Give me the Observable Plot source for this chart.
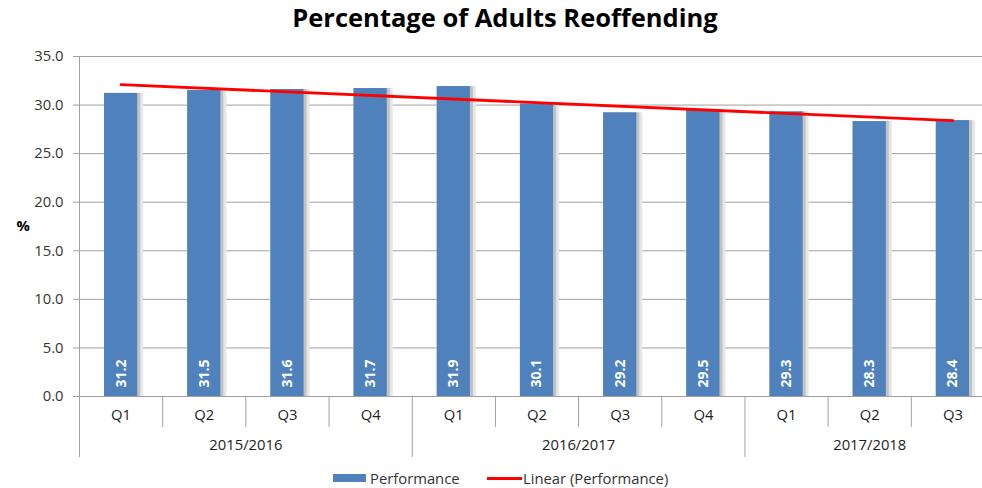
<!DOCTYPE html>
<html><head><meta charset="utf-8">
<script src="https://cdn.jsdelivr.net/npm/d3@7"></script>
<script src="https://cdn.jsdelivr.net/npm/@observablehq/plot@0.6"></script>
<style>
html,body{margin:0;padding:0;background:#fff;overflow:hidden;width:982px;height:488px;position:relative}
#title{position:absolute;top:0;left:14px;width:982px;height:42px;line-height:42px;text-align:center;font:bold 25.5px "Open Sans", sans-serif;color:#000}
#chart{position:absolute;top:40px;left:0}
.lg{position:absolute;font:14.8px "Open Sans", sans-serif;color:#333;white-space:nowrap}
</style></head><body>
<div id="title">Percentage of Adults Reoffending</div>
<div id="chart"></div>
<div class="lg" style="left:333px;top:474px;width:33px;height:8px;background:#4F81BD"></div>
<div class="lg" style="left:370px;top:468px;line-height:20px">Performance</div>
<div class="lg" style="left:487px;top:477px;width:35px;height:3px;background:#FF0000"></div>
<div class="lg" style="left:523px;top:468px;line-height:20px">Linear (Performance)</div>
<script>
const years = ["2015/2016", "2016/2017", "2017/2018"];
const quarters = ["Q1", "Q2", "Q3", "Q4", "Q1", "Q2", "Q3", "Q4", "Q1", "Q2", "Q3"];
const yearIndex = [0, 0, 0, 0, 1, 1, 1, 1, 2, 2, 2];
const performance = [31.2, 31.5, 31.6, 31.7, 31.9, 30.1, 29.2, 29.5, 29.3, 28.3, 28.4];
const yTicks = [0, 5, 10, 15, 20, 25, 30, 35];

const rows = performance.map((v, i) => ({i, q: quarters[i], year: years[yearIndex[i]], v}));
const n = rows.length;
const groupStarts = [], groupCenters = [];
years.forEach((y, k) => {
  const idx = rows.filter(r => yearIndex[r.i] === k).map(r => r.i);
  groupStarts.push(d3.min(idx));
  groupCenters.push((d3.min(idx) + d3.max(idx) + 1) / 2);
});
const innerSeps = d3.range(1, n).filter(i => !groupStarts.includes(i));

const inset = 25;
const fs = 14.8;
const plot = Plot.plot({
  width: 982,
  height: 425,
  marginLeft: 79,
  marginRight: -12,
  marginTop: 16,
  marginBottom: 69,
  style: {fontFamily: "'Open Sans', sans-serif", fontSize: fs + "px", color: "#333", background: "white"},
  x: {domain: [0, n]},
  y: {domain: [0, 35]},
  marks: [
    Plot.ruleY(yTicks.slice(1), {stroke: "#a0a0a0", strokeWidth: 1}),
    Plot.axisY({ticks: yTicks, tickFormat: d => d.toFixed(1), tickSize: 6, tickPadding: 10, stroke: "#a0a0a0", fill: "#333", label: null, fontSize: fs}),
    Plot.text(["%"], {frameAnchor: "left", dx: -63, fontWeight: "bold", fill: "#000", fontSize: fs}),
    Plot.rectY(rows, {x1: d => d.i, x2: d => d.i + 1, y: "v", insetLeft: inset, insetRight: inset - 6, fill: "#e6e6e6"}),
    Plot.rectY(rows, {x1: d => d.i, x2: d => d.i + 1, y: "v", insetLeft: inset, insetRight: inset - 3, fill: "#c2c2c2"}),
    Plot.rectY(rows, {x1: d => d.i, x2: d => d.i + 1, y: "v", insetLeft: inset, insetRight: inset, fill: "#4F81BD"}),
    Plot.text(rows, {x: d => d.i + 0.5, y: 0, text: d => d.v.toFixed(1), rotate: -90, textAnchor: "start", lineAnchor: "middle", dy: -9, fill: "white", fontWeight: "bold", fontSize: 14}),
    Plot.linearRegressionY(rows, {x: d => d.i + 0.5, y: "v", stroke: "#FF0000", strokeWidth: 2.8, ci: 0}),
    Plot.ruleX([0], {y1: 0, y2: 35, stroke: "#a0a0a0"}),
    Plot.ruleY([0], {stroke: "#a0a0a0"}),
    Plot.axisX({ticks: rows.map(d => d.i + 0.5), tickFormat: d => quarters[Math.floor(d)], tickSize: 0, tickPadding: 13, label: null, fill: "#222", fontSize: fs}),
    Plot.axisX({ticks: innerSeps, tickFormat: () => "", tickSize: 31, stroke: "#a0a0a0", label: null}),
    Plot.axisX({ticks: groupStarts, tickFormat: () => "", tickSize: 61, stroke: "#a0a0a0", label: null}),
    Plot.axisX({ticks: groupCenters, tickFormat: d => years[groupCenters.indexOf(d)], tickSize: 0, tickPadding: 43, label: null, fill: "#222", fontSize: fs})
  ]
});
document.getElementById("chart").appendChild(plot);
</script>
</body></html>
